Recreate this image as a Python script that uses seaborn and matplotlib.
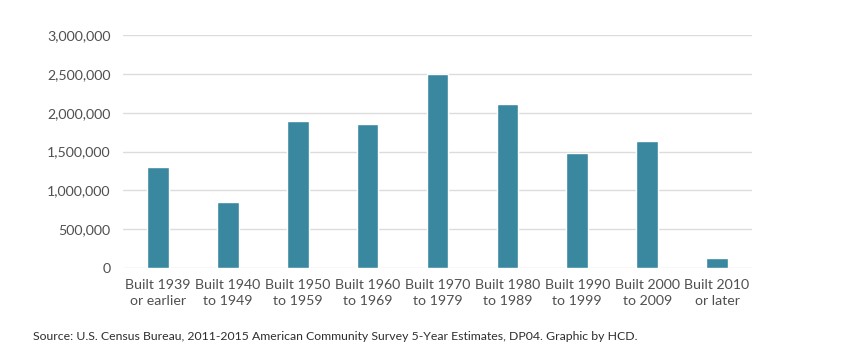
import matplotlib
matplotlib.use("Agg")
import matplotlib.pyplot as plt
import seaborn as sns
import pandas as pd
from matplotlib.ticker import FuncFormatter

# === Data ===
categories = ["Built 1939\nor earlier", "Built 1940\nto 1949", "Built 1950\nto 1959",
              "Built 1960\nto 1969", "Built 1970\nto 1979", "Built 1980\nto 1989",
              "Built 1990\nto 1999", "Built 2000\nto 2009", "Built 2010\nor later"]
units = [1295000, 855000, 1895000, 1860000, 2500000, 2110000, 1485000, 1640000, 130000]
y_ticks = [0, 500000, 1000000, 1500000, 2000000, 2500000, 3000000]

df = pd.DataFrame({"period": categories, "units": units})

sns.set_style("white")
plt.rcParams['font.family'] = ['Lato', 'DejaVu Sans']

fig = plt.figure(figsize=(8.5, 3.54), dpi=100)
ax = fig.add_axes([0.1447, 0.2429, 0.74, 0.658])

sns.barplot(data=df, x="period", y="units", color="#3a88a0", width=0.31,
            saturation=1, ax=ax, zorder=3)

ax.set_ylim(0, 3000000)
ax.set_xlim(-0.5, 8.5)
ax.set_yticks(y_ticks)
ax.yaxis.set_major_formatter(FuncFormatter(lambda v, p: f"{int(v):,}"))
ax.grid(axis="y", color="#dcdcdc", linewidth=1, zorder=0)
ax.set_xlabel("")
ax.set_ylabel("")
for s in ax.spines.values():
    s.set_visible(False)
ax.tick_params(axis="both", length=0, labelsize=10.2, colors="#505050")
ax.tick_params(axis="y", pad=9)
ax.tick_params(axis="x", pad=8)
for lbl in ax.get_xticklabels():
    lbl.set_linespacing(1.35)

fig.text(0.039, 0.04, "Source: U.S. Census Bureau, 2011-2015 American Community Survey 5-Year Estimates, DP04. Graphic by HCD.",
         fontsize=8.8, color="#2e2e2e")

fig.savefig("out.png", dpi=100)
